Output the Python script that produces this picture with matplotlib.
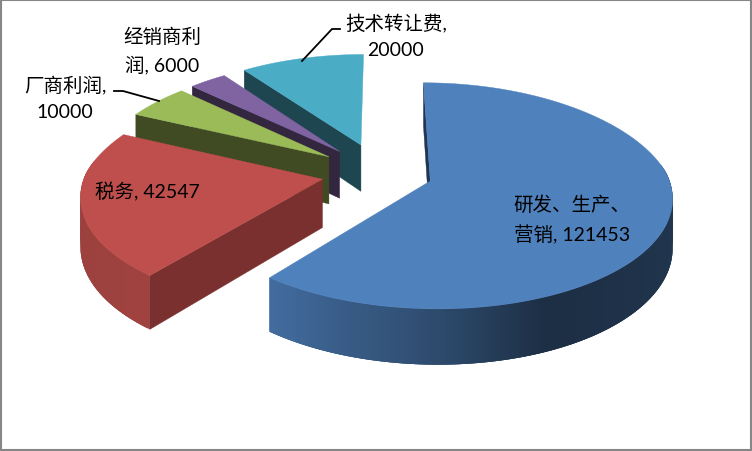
""" exploded 3d pie, drawn by hand because matplotlib has no perspective pie """

import numpy as np
import matplotlib
matplotlib.use('Agg')
import matplotlib.pyplot as plt
from matplotlib.patches import Polygon, Rectangle
from matplotlib.colors import to_rgb

plt.rcParams['font.family'] = ['Lato', 'Noto Sans CJK SC', 'DejaVu Sans']

# data, clockwise from 12 o'clock
names = ['研发、生产、\n营销', '税务', '厂商利润', '经销商利\n润', '技术转让费']
values = [121453, 42547, 10000, 6000, 20000]
separators = [' ', ' ', '\n', ' ', '\n']

# styles
top_colors = ['#4F81BD', '#BE4F4C', '#9BBB59', '#8064A2', '#4BACC6']
cut_colors = ['#1F3552', '#7A302E', '#404A23', '#33273F', '#1E4650']
explode = [0.22, 0.25, 0.27, 0.27, 0.28]
label_pos = [(572, 220), (147, 192), (65, 98), (162, 51), (396, 36)]
leaders = [[(302, 62), (332, 30), (340, 30)], [(159, 102), (123, 92), (114, 92)]]

# rim brightness by pie angle
rim_angles = [0, 100, 157, 180, 218, 300, 360]
rim_shades = [0.42, 0.42, 0.36, 0.58, 0.84, 0.80, 0.80]

# projection of the pie plane to pixels
OX, OY = 380.6, 174.0
RX, RY = 237.0, 109.0
PERSP = 0.13
BACK_PINCH = 0.03
DEPTH = 48.0


def project(px, pz, drop=0.0):
    w = 1.0 / (1.0 + PERSP * pz)
    wx = 1.0 / (1.0 + PERSP * pz + BACK_PINCH * np.maximum(pz, 0.0))
    return np.column_stack((OX + RX * px * wx, OY - RY * pz * w + DEPTH * drop * w))


def draw_slice(ax, start, stop, ex, top_color, cut_color, zorder):
    mid = np.radians((start + stop) / 2.0)
    cx, cz = ex * np.sin(mid), ex * np.cos(mid)
    theta = np.linspace(start, stop, max(int(stop - start) * 2, 6))
    rad = np.radians(theta)
    px, pz = cx + np.sin(rad), cz + np.cos(rad)

    # rim, split up so it can carry the gradient. each quad runs under the next one to hide seams
    upper, lower = project(px, pz), project(px, pz, drop=1.0)
    base = np.array(to_rgb(top_color))
    for i in range(len(theta) - 1):
        # back of the rim faces away from the viewer
        if np.cos(rad[i]) > 0.15:
            continue
        shade = np.interp((theta[i] + theta[i + 1]) / 2.0, rim_angles, rim_shades)
        j = min(i + 3, len(theta) - 1)
        quad = [upper[i], upper[j], lower[j], lower[i]]
        ax.add_patch(Polygon(quad, fc=base * shade, ec='none', zorder=zorder))

    # cut face on the starting edge
    corner = np.array([px[0], cx]), np.array([pz[0], cz])
    face = np.vstack((project(*corner), project(*corner, drop=1.0)[::-1]))
    ax.add_patch(Polygon(face, fc=cut_color, ec=cut_color, lw=0.3, zorder=zorder + 0.2))

    outline = np.vstack((project(np.array([cx]), np.array([cz])), upper))
    ax.add_patch(Polygon(outline, fc=top_color, ec=top_color, lw=0.3, zorder=zorder + 0.5))


fig = plt.figure(figsize=(7.52, 4.52), dpi=100)
ax = fig.add_axes([0, 0, 1, 1])
ax.set_xlim(0, 752)
ax.set_ylim(452, 0)
ax.axis('off')

ax.add_patch(Rectangle((1, 1), 750, 450, fc='white', ec='#868686', lw=1.5, zorder=0))

edges = np.concatenate(([0.0], np.cumsum(values))) / float(sum(values)) * 360.0

# back slices first
for n, i in enumerate([4, 3, 2, 1, 0]):
    draw_slice(ax, edges[i], edges[i + 1], explode[i], top_colors[i], cut_colors[i], 1 + n)

for pts in leaders:
    xs, ys = zip(*pts)
    ax.plot(xs, ys, color='black', lw=1.3, zorder=20, solid_joinstyle='miter')

for name, value, sep, pos in zip(names, values, separators, label_pos):
    ax.text(pos[0], pos[1], f'{name},{sep}{value}', ha='center', va='center',
            multialignment='center', fontsize=14, color='black', linespacing=1.65, zorder=21)

fig.savefig('out.png', dpi=100)
